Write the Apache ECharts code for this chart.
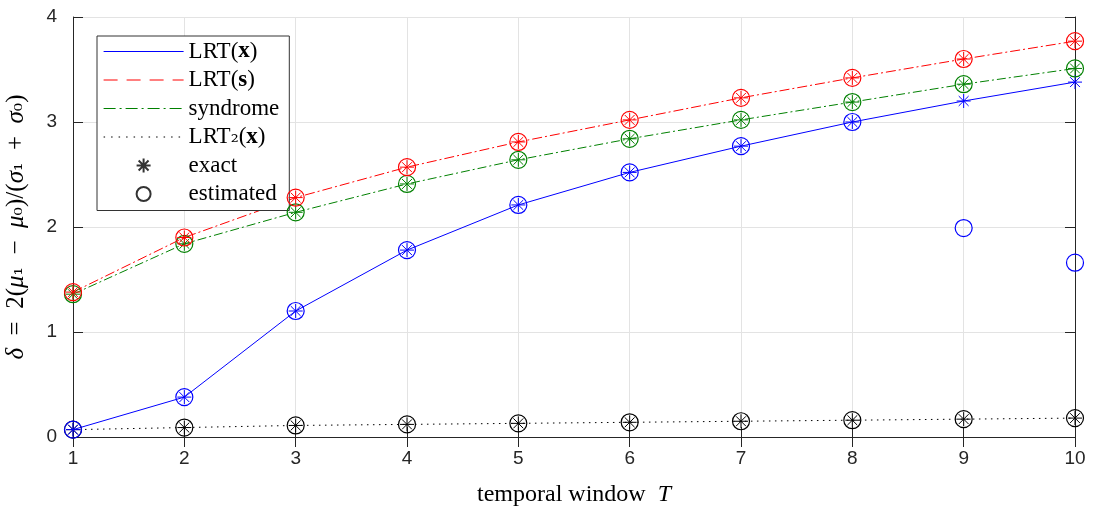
<!DOCTYPE html>
<html><head><meta charset="utf-8">
<script src="https://cdn.jsdelivr.net/npm/echarts@6/dist/echarts.min.js"></script>
<style>html,body{margin:0;padding:0;background:#fff}#c{width:1099px;height:515px}</style>
</head><body><div id="c"></div>
<script>
const T = [1,2,3,4,5,6,7,8,9,10];
const xTicks = [1,2,3,4,5,6,7,8,9,10];
const yTicks = [0,1,2,3,4];
const lrtX      = [0.07,0.38,1.20,1.78,2.21,2.52,2.77,3.00,3.20,3.38];
const lrtXEst   = [0.07,0.38,1.20,1.78,2.21,2.52,2.77,3.00,1.99,1.66];
const lrtS      = [1.38,1.90,2.28,2.57,2.81,3.02,3.23,3.42,3.60,3.77];
const lrtSEst   = [1.38,1.90,2.28,2.57,2.81,3.02,3.23,3.42,3.60,3.77];
const synd      = [1.36,1.84,2.14,2.41,2.64,2.84,3.02,3.19,3.36,3.51];
const syndEst   = [1.36,1.84,2.14,2.41,2.64,2.84,3.02,3.19,3.36,3.51];
const lrt2      = [0.07,0.09,0.11,0.12,0.13,0.14,0.15,0.16,0.17,0.18];
const lrt2Est   = [0.07,0.09,0.11,0.12,0.13,0.14,0.15,0.16,0.17,0.18];

const pair = arr => T.map((t,i)=>[t,arr[i]]);
const STAR = 'path://M0,-10L0,10M-10,0L10,0M-7.07,-7.07L7.07,7.07M-7.07,7.07L7.07,-7.07';
const serif = 'Liberation Serif';
const sans = 'Liberation Sans';

function lineSeries(name, data, color, type){
  return {name, type:'line', data:pair(data), symbol:'none', z:3,
    lineStyle:{color, width:1, type}, itemStyle:{color}, animation:false};
}
function starSeries(name, data, color){
  return {name, type:'scatter', data:pair(data), symbol:STAR, symbolSize:14, z:4,
    itemStyle:{color:'transparent', borderColor:color, borderWidth:1, opacity:1}, animation:false};
}
function circSeries(name, data, color){
  return {name, type:'scatter', data:pair(data), symbol:'circle', symbolSize:17, z:4,
    itemStyle:{color:'transparent', borderColor:color, borderWidth:1.2, opacity:1}, animation:false};
}
const C = {b:'#0000ff', r:'#ff0000', g:'#008000', k:'#000000'};

const series = [
  lineSeries('LRT2(x)', lrt2, C.k, [1.5,4.5]),
  starSeries('k*', lrt2, C.k), circSeries('ko', lrt2Est, C.k),
  lineSeries('LRT(x)', lrtX, C.b, 'solid'),
  starSeries('b*', lrtX, C.b), circSeries('bo', lrtXEst, C.b),
  lineSeries('syndrome', synd, C.g, [9,3,2,3]),
  starSeries('g*', synd, C.g), circSeries('go', syndEst, C.g),
  lineSeries('LRT(s)', lrtS, C.r, [10,3,2,3]),
  starSeries('r*', lrtS, C.r), circSeries('ro', lrtSEst, C.r),
  {name:'exact', type:'scatter', data:[], symbol:STAR, symbolSize:14, itemStyle:{color:'transparent', borderColor:'#000', borderWidth:1}},
  {name:'estimated', type:'scatter', data:[], symbol:'circle', symbolSize:17, itemStyle:{color:'transparent', borderColor:'#000', borderWidth:1.2}}
];

const noSym = {color:'transparent', borderColor:'transparent', borderWidth:0, opacity:0};
const axisCol = '#262626';
const option = {
  animation:false,
  grid:{left:73, right:24, top:17, bottom:78, containLabel:false, outerBoundsMode:'none'},
  legend:{
    show:true, orient:'vertical', left:97, top:36, padding:[4,10,5,6],
    itemWidth:80, itemHeight:14, itemGap:5.5,
    backgroundColor:'#fff', borderColor:'#333', borderWidth:1, borderRadius:0,
    selectedMode:false,
    textStyle:{fontFamily:serif, fontSize:23, color:'#000', lineHeight:20,
      rich:{b:{fontFamily:serif, fontSize:23, fontWeight:'bold', lineHeight:20},
            s:{fontFamily:'DejaVu Serif', fontSize:20, lineHeight:20}}},
    formatter: function(n){
      if (n === 'LRT(x)') return 'LRT({b|x})';
      if (n === 'LRT(s)') return 'LRT({b|s})';
      if (n === 'LRT2(x)') return 'LRT{s|₂}({b|x})';
      return n;
    },
    data:[
      {name:'LRT(x)', itemStyle:noSym, lineStyle:{color:C.b, width:1, type:'solid'}},
      {name:'LRT(s)', itemStyle:noSym, lineStyle:{color:C.r, width:1, type:[14,9]}},
      {name:'syndrome', itemStyle:noSym, lineStyle:{color:C.g, width:1.2, type:[12,4,2,4]}},
      {name:'LRT2(x)', itemStyle:noSym, lineStyle:{color:C.k, width:1, type:[1.5,6]}},
      'exact','estimated'
    ]
  },
  xAxis:[{
    type:'value', min:1, max:10, interval:1,
    name:'temporal window  {i|T}', nameLocation:'middle', nameGap:46,
    nameTextStyle:{fontFamily:serif, fontSize:24, color:'#000',
      rich:{i:{fontFamily:serif, fontSize:24, fontStyle:'italic', color:'#000'}}},
    axisLine:{show:true, lineStyle:{color:axisCol, width:1}},
    axisTick:{show:true, inside:true, length:10, lineStyle:{color:axisCol}},
    axisLabel:{fontFamily:sans, fontSize:19, color:axisCol, margin:12, formatter:v=>xTicks.includes(v)?String(v):''},
    splitLine:{show:true, lineStyle:{color:'#e3e3e3', width:1}}
  },{
    type:'value', min:1, max:10, interval:1, position:'top',
    axisLine:{show:true, lineStyle:{color:axisCol, width:1}},
    axisTick:{show:true, inside:true, length:10, lineStyle:{color:axisCol}},
    axisLabel:{show:false}, splitLine:{show:false}
  }],
  yAxis:[{
    type:'value', min:0, max:4, interval:1,
    name:'{i|δ}  =  2({i|μ}{s|₁}  −  {i|μ}{s|₀})/({i|σ}{s|₁}  +  {i|σ}{s|₀})',
    nameLocation:'middle', nameGap:44, nameRotate:90,
    nameTextStyle:{fontFamily:serif, fontSize:25, color:'#000',
      rich:{i:{fontFamily:serif, fontSize:25, fontStyle:'italic', color:'#000'},
            s:{fontFamily:'DejaVu Serif', fontSize:21, color:'#000'}}},
    axisLine:{show:true, lineStyle:{color:axisCol, width:1}},
    axisTick:{show:true, inside:true, length:10, lineStyle:{color:axisCol}},
    axisLabel:{fontFamily:sans, fontSize:19, color:axisCol, margin:16, formatter:v=>yTicks.includes(v)?String(v):''},
    splitLine:{show:true, lineStyle:{color:'#e3e3e3', width:1}}
  },{
    type:'value', min:0, max:4, interval:1, position:'right',
    axisLine:{show:true, lineStyle:{color:axisCol, width:1}},
    axisTick:{show:true, inside:true, length:10, lineStyle:{color:axisCol}},
    axisLabel:{show:false}, splitLine:{show:false}
  }],
  series
};
const chart = echarts.init(document.getElementById('c'), null, {renderer:'canvas'});
chart.setOption(option);
</script></body></html>
